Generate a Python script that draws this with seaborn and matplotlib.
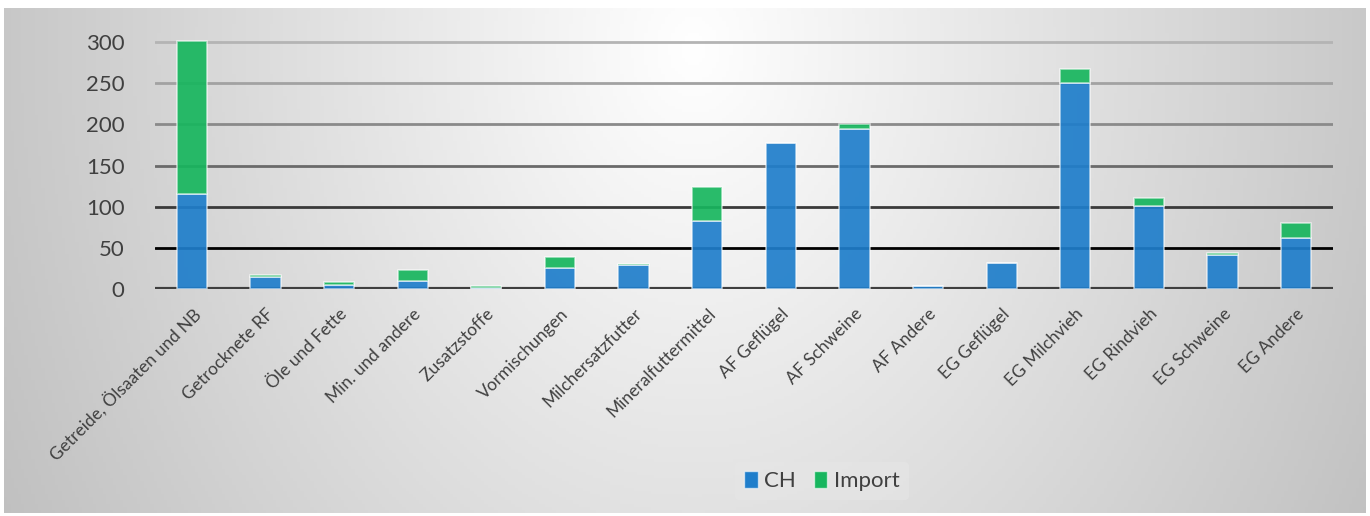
import numpy as np
import pandas as pd
import matplotlib
matplotlib.use("Agg")
import matplotlib.pyplot as plt
from matplotlib.patches import Patch
import seaborn as sns

categories = ["Getreide, Ölsaaten und NB", "Getrocknete RF", "Öle und Fette",
              "Min. und andere", "Zusatzstoffe", "Vormischungen", "Milchersatzfutter",
              "Mineralfuttermittel", "AF Geflügel", "AF Schweine", "AF Andere",
              "EG Geflügel", "EG Milchvieh", "EG Rindvieh", "EG Schweine", "EG Andere"]
ch_values = [115, 14, 5, 10, 1, 25, 29, 83, 177, 194, 4, 32, 250, 101, 41, 62]
import_values = [186, 3, 4, 13, 3, 14, 1, 41, 0, 6, 0, 0, 17, 10, 3, 18]
series_names = ["CH", "Import"]
y_ticks = [0, 50, 100, 150, 200, 250, 300]

blue = "#1f7ecb"
green = "#17b65e"
text_col = "#404040"

sns.set_theme(style="white")
plt.rcParams["font.family"] = ["Lato", "DejaVu Sans"]

W, H = 1370, 516
fig = plt.figure(figsize=(W / 100, H / 100), dpi=100)
fig.patch.set_facecolor("white")

# gradient background panel
bg = fig.add_axes([4 / W, 1 - 513 / H, (1366 - 4) / W, (513 - 8) / H])
gx = np.linspace(0, 1362, 400)
gy = np.linspace(0, 505, 160)
GX, GY = np.meshgrid(gx, gy)
d = np.sqrt(((GX - 690) / 700) ** 2 + ((GY - 40) / 900) ** 2)
val = np.clip(1.0 - 0.22 * d, 0, 1)
bg.imshow(np.dstack([val, val, val]), aspect="auto", extent=[0, 1, 0, 1], origin="upper")
bg.set_axis_off()

ax = fig.add_axes([155 / W, 1 - 289 / H, (1333 - 155) / W, (289 - 37.9) / H])
ax.patch.set_alpha(0)

df = pd.DataFrame({
    "cat": categories * 2,
    "value": ch_values + import_values,
    "series": [series_names[0]] * len(categories) + [series_names[1]] * len(categories),
})
# in seaborn's stacking the first hue level ends up on top
sns.histplot(data=df, x="cat", weights="value", hue="series", hue_order=series_names[::-1],
             multiple="stack", discrete=True, shrink=0.41,
             palette=[green, blue], alpha=0.92, edgecolor=(1, 1, 1, 0.6), linewidth=1.2,
             ax=ax, legend=False, zorder=3)

grid_cols = {50: "#000000", 100: "#3a3a3a", 150: "#6a6a6a", 200: "#8a8a8a",
             250: "#a2a2a2", 300: "#b4b4b4"}
for yv in y_ticks[1:]:
    ax.axhline(yv, color=grid_cols[yv], lw=2, zorder=1)
ax.axhline(0, color="#3f3f3f", lw=3, zorder=2)

ax.set_xlim(-0.5, len(categories) - 0.5)
ax.set_ylim(0, 305)
ax.set_yticks(y_ticks)
ax.set_yticklabels([str(t) for t in y_ticks], fontsize=16, color=text_col)
ax.set_xticks(range(len(categories)))
ax.set_xticklabels(categories, rotation=45, ha="right", rotation_mode="anchor",
                   fontsize=12.5, color=text_col)
ax.tick_params(axis="x", length=0, pad=12)
ax.tick_params(axis="y", length=0, pad=22)
ax.set_xlabel("")
ax.set_ylabel("")
for s in ax.spines.values():
    s.set_visible(False)

handles = [Patch(facecolor=blue, edgecolor=(1, 1, 1, 0.6)),
           Patch(facecolor=green, edgecolor=(1, 1, 1, 0.6))]
leg = fig.legend(handles, series_names, loc="center", bbox_to_anchor=(822 / W, 1 - 481 / H),
                 ncol=2, frameon=True, fontsize=16, handlelength=0.6, handleheight=0.8,
                 handletextpad=0.3, columnspacing=0.8, borderpad=0.4)
leg.get_frame().set_facecolor("#e6e6e6")
leg.get_frame().set_edgecolor("none")
leg.get_frame().set_alpha(0.6)
for t in leg.get_texts():
    t.set_color(text_col)

fig.savefig("out.png", dpi=100)
